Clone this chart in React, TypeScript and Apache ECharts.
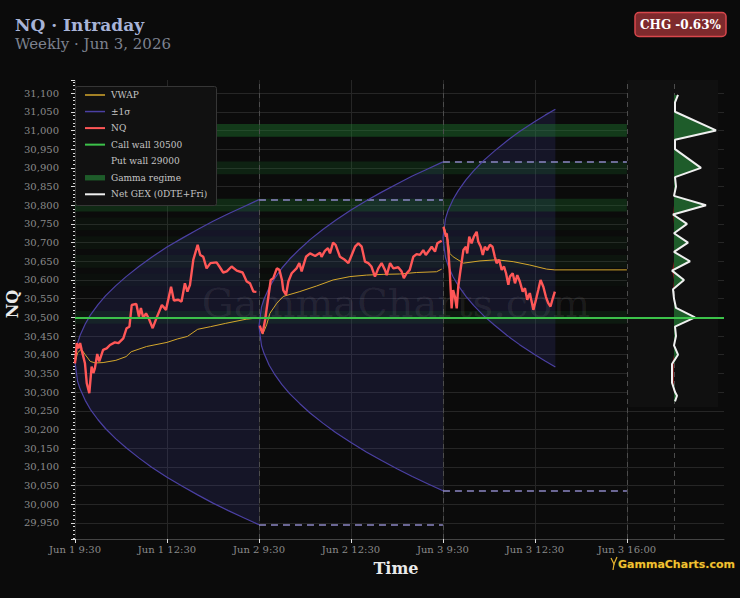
import React, { useEffect, useRef } from 'react';
import * as echarts from 'echarts';

// ---------- axis ticks ----------
const xTickIdx = [0, 36, 72, 108, 144, 180, 216];
const xTickLabels = ['Jun 1 9:30', 'Jun 1 12:30', 'Jun 2 9:30', 'Jun 2 12:30', 'Jun 3 9:30', 'Jun 3 12:30', 'Jun 3 16:00'];
const sessionBreakIdx = [72, 144, 216];
const gexZeroIdx = 234.5;

// ---------- ±1σ cones (session start index, offsets, upper/lower) ----------
const sessionStart = [0, 72, 144];
const sigmaOffsets = [0, 1, 2, 4, 6, 9, 12, 16, 20, 25, 30, 36, 42, 48, 54, 60, 66, 72];
const sigmaOffsets3 = [0, 1, 2, 4, 6, 9, 12, 16, 20, 25, 30, 36, 40, 44];
const sigmaUpper1 = [30380, 30431, 30452, 30482, 30506, 30534, 30558, 30585, 30609, 30636, 30661, 30688, 30712, 30735, 30757, 30777, 30796, 30815];
const sigmaLower1 = [30380, 30329, 30308, 30278, 30254, 30226, 30202, 30175, 30151, 30124, 30099, 30072, 30048, 30025, 30003, 29983, 29964, 29945];
const sigmaUpper2 = [30476, 30528, 30549, 30580, 30603, 30632, 30656, 30683, 30708, 30735, 30760, 30787, 30812, 30835, 30857, 30878, 30897, 30916];
const sigmaLower2 = [30476, 30424, 30403, 30372, 30349, 30320, 30296, 30269, 30244, 30217, 30192, 30165, 30140, 30117, 30095, 30074, 30055, 30036];
const sigmaUpper3 = [30712, 30764, 30786, 30816, 30839, 30868, 30892, 30920, 30944, 30972, 30997, 31024, 31041, 31057];
const sigmaLower3 = [30712, 30660, 30639, 30608, 30585, 30556, 30532, 30504, 30480, 30452, 30427, 30400, 30383, 30367];

// prior-session σ extremes carried into the next session
const levelFrom = [72, 72, 144, 144];
const levelTo = [144, 144, 216, 216];
const levelValue = [30815, 29945, 30916, 30036];

// ---------- NQ price [bar index, price] ----------
const nqSession1 = [[0, 30377], [0.7, 30431], [1.3, 30417], [2, 30431], [2.6, 30413], [3.9, 30377], [4.6, 30324], [5.6, 30297], [6.5, 30368], [7.2, 30351], [7.8, 30364], [8.7, 30402], [9.5, 30382], [11, 30413], [12.4, 30417], [13.7, 30426], [15.6, 30433], [17, 30431], [18.9, 30444], [20.2, 30471], [21.3, 30475], [22.2, 30533], [24, 30536], [25, 30502], [25.8, 30525], [26.7, 30498], [27.8, 30511], [29, 30495], [30.4, 30471], [32, 30500], [34, 30533], [35.6, 30520], [37.6, 30582], [38.7, 30545], [40.4, 30547], [41.7, 30542], [43, 30591], [44, 30569], [45, 30587], [46.3, 30654], [48, 30694], [49, 30667], [50.2, 30662], [51.5, 30631], [53, 30645], [55.4, 30647], [56.5, 30636], [58, 30620], [59.4, 30623], [61.3, 30636], [63.3, 30625], [65.6, 30620], [67.2, 30596], [68.5, 30591], [69.8, 30569], [71, 30568]];
const nqSession2 = [[72.3, 30478], [73.4, 30457], [74.4, 30493], [75.6, 30551], [76.6, 30600], [77.6, 30605], [79, 30631], [80, 30627], [81, 30600], [81.5, 30573], [82.6, 30560], [83.5, 30596], [84.8, 30618], [86.7, 30631], [87.8, 30645], [88.7, 30623], [90.4, 30662], [92, 30671], [94, 30664], [95.9, 30673], [96.5, 30662], [97.8, 30678], [99, 30685], [99.8, 30671], [101, 30700], [102, 30694], [103.7, 30662], [105.6, 30654], [107, 30645], [108.3, 30667], [109.6, 30689], [110.9, 30698], [112.2, 30689], [113.5, 30649], [114.8, 30645], [116, 30636], [117.4, 30609], [118.7, 30631], [120, 30645], [121.3, 30627], [122, 30613], [123.3, 30645], [124.6, 30631], [126.5, 30634], [127.8, 30623], [128.7, 30605], [129.8, 30618], [131, 30627], [132.4, 30662], [133.7, 30669], [135, 30667], [136.3, 30680], [137.3, 30667], [138.3, 30676], [139.6, 30689], [140.9, 30676], [141.8, 30698], [143, 30703], [143.5, 30705]];
const nqSession3 = [[144.2, 30742], [145.2, 30716], [145.5, 30725], [146.1, 30680], [146.7, 30618], [147.4, 30524], [148, 30573], [148.7, 30555], [149.4, 30524], [150, 30582], [150.7, 30618], [152, 30680], [153, 30689], [153.5, 30671], [154.3, 30716], [155.2, 30698], [156.1, 30716], [157.2, 30729], [157.8, 30703], [158.8, 30689], [159.6, 30667], [160.4, 30689], [161.3, 30680], [162.4, 30694], [163.4, 30689], [164.3, 30662], [165, 30645], [166, 30654], [167, 30627], [167.9, 30636], [168.7, 30618], [169.6, 30587], [170.2, 30609], [171.3, 30618], [172.2, 30591], [173.1, 30613], [174.1, 30596], [175.2, 30569], [176.1, 30578], [177, 30547], [178, 30565], [179.4, 30520], [180.4, 30547], [181.3, 30573], [182.2, 30600], [183.3, 30582], [184.3, 30555], [185.2, 30538], [186.1, 30529], [187, 30551], [187.8, 30569]];

// ---------- VWAP [bar index, price] ----------
const vwapSession1 = [[0, 30377], [1, 30405], [2.5, 30415], [4, 30400], [6, 30382], [8, 30378], [11, 30379], [16, 30385], [20, 30395], [22, 30408], [28, 30422], [36, 30433], [40, 30442], [44, 30449], [48, 30468], [53, 30475], [59, 30484], [67, 30495], [71, 30498]];
const vwapSession2 = [[72.5, 30470], [73.5, 30455], [75, 30480], [76.3, 30511], [79, 30538], [81.5, 30556], [88, 30569], [94.6, 30584], [101, 30600], [107.6, 30609], [114, 30613], [120.6, 30615], [127, 30616], [133.7, 30620], [141.5, 30622], [143.5, 30629]];
const vwapSession3 = [[144.4, 30743], [146, 30707], [146.7, 30671], [148, 30662], [152, 30645], [158.5, 30651], [165, 30654], [171.5, 30649], [178, 30640], [184.6, 30629], [187.8, 30627], [216, 30627]];

// ---------- walls / gamma regime ----------
const callWall = 30500;
const gammaStrikes = [31000, 30900, 30800, 30750, 30700, 30650, 30600, 30500];
const gammaStrength = [42, 27, 32, 13, 14, 16, 10, 21];

// ---------- Net GEX profile (0DTE + Fri) ----------
const gexPrice = [31095, 31075, 31050, 31000, 30975, 30950, 30900, 30875, 30850, 30825, 30800, 30775, 30750, 30725, 30700, 30675, 30650, 30625, 30600, 30575, 30550, 30525, 30500, 30475, 30450, 30425, 30400, 30375, 30350, 30325, 30300, 30290, 30275];
const gexValue = [4, 1, 1, 42, 1, 1, 27, 1, 2, 0, 32, -1, 13, 0, 14, 0, 16, -2, 10, -1, 0, 2, 21, 1, 2, 0, 4, -2, -2, -2, 1, 3, 1];

// ---------- legend ----------
const legendNames = ['VWAP', '±1σ', 'NQ', 'Call wall 30500', 'Put wall 29000', 'Gamma regime', 'Net GEX (0DTE+Fri)'];
const legendKinds = ['line', 'line', 'line', 'line', 'none', 'rect', 'line'];

const BG = '#0b0b0b';
const C_NQ = '#ff5757';
const C_VWAP = '#d4a72c';
const C_SIGMA = '#4b40a3';
const C_CALL = '#3cc24a';
const C_GAMMA = '#1e5c2a';
const C_GEX = '#f0f0f0';
const legendColors = [C_VWAP, C_SIGMA, C_NQ, C_CALL, 'transparent', C_GAMMA, C_GEX];
const legendWidths = [1.5, 1.5, 2, 2, 0, 0, 2];
const SERIF = 'DejaVu Serif';

function buildOption() {
  const offsetsBy = [sigmaOffsets, sigmaOffsets, sigmaOffsets3];
  const upperBy = [sigmaUpper1, sigmaUpper2, sigmaUpper3];
  const lowerBy = [sigmaLower1, sigmaLower2, sigmaLower3];
  const labelFor = (v: number) => {
    const i = xTickIdx.indexOf(Math.round(v));
    return i >= 0 ? xTickLabels[i] : '';
  };
  const lineBase = { type: 'line', showSymbol: false, symbol: 'none', silent: true, xAxisIndex: 0, yAxisIndex: 0 };
  const series: any[] = [];

  // cone fills
  series.push({
    type: 'custom', xAxisIndex: 0, yAxisIndex: 0, z: 1, silent: true,
    data: sessionStart.map((s, k) => [s, upperBy[k][0]]),
    renderItem: (params: any, api: any) => {
      const k = params.dataIndex;
      const s = sessionStart[k];
      const offs = offsetsBy[k];
      const pts: number[][] = [];
      for (let i = 0; i < offs.length; i++) pts.push(api.coord([s + offs[i], upperBy[k][i]]));
      for (let i = offs.length - 1; i >= 0; i--) pts.push(api.coord([s + offs[i], lowerBy[k][i]]));
      return { type: 'polygon', shape: { points: pts }, style: { fill: 'rgba(70,70,165,0.19)' } };
    },
  });

  // cone edges
  for (let k = 0; k < 3; k++) {
    const s = sessionStart[k];
    const offs = offsetsBy[k];
    const up: any = { ...lineBase, z: 2.5, data: offs.map((o, i) => [s + o, upperBy[k][i]]), lineStyle: { color: C_SIGMA, width: 1.2 } };
    const lo: any = { ...lineBase, z: 2.5, data: offs.map((o, i) => [s + o, lowerBy[k][i]]), lineStyle: { color: C_SIGMA, width: 1.2 } };
    if (k === 0) {
      up.markLine = {
        silent: true, symbol: 'none', z: 0.5, label: { show: false },
        lineStyle: { color: '#262626', width: 1, type: 'solid' },
        data: xTickIdx.map((v) => ({ xAxis: v })),
      };
      lo.markArea = {
        silent: true, z: 1.5, label: { show: false },
        data: gammaStrikes.map((st, i) => [
          { xAxis: 0, yAxis: st - 17, itemStyle: { color: `rgba(30,125,48,${(0.42 * Math.pow(gammaStrength[i] / 42, 1.6)).toFixed(3)})` } },
          { xAxis: 216, yAxis: st + 17 },
        ]),
      };
    }
    if (k === 1) {
      up.markLine = {
        silent: true, symbol: 'none', z: 1.6, label: { show: false },
        lineStyle: { color: '#4c4c4c', width: 1, type: [5, 4] },
        data: [...sessionBreakIdx, gexZeroIdx].map((v) => ({ xAxis: v })),
      };
      lo.markLine = {
        silent: true, symbol: 'none', z: 1.7, label: { show: false },
        lineStyle: { color: '#8c87c4', width: 1.5, type: [7, 5] },
        data: levelValue.map((v, i) => [{ coord: [levelFrom[i], v] }, { coord: [levelTo[i], v] }]),
      };
    }
    series.push(up, lo);
  }

  // VWAP
  [vwapSession1, vwapSession2, vwapSession3].forEach((d) => {
    series.push({ ...lineBase, z: 3, data: d, lineStyle: { color: C_VWAP, width: 1 } });
  });

  // NQ
  [nqSession1, nqSession2, nqSession3].forEach((d, k) => {
    const s: any = { ...lineBase, z: 4, data: d, lineStyle: { color: C_NQ, width: 2.4 } };
    if (k === 2) {
      s.markLine = {
        silent: true, symbol: 'none', z: 10, label: { show: false },
        lineStyle: { color: C_CALL, width: 2, type: 'solid' },
        data: [{ yAxis: callWall }],
      };
    }
    series.push(s);
  });

  // GEX profile fill
  series.push({
    type: 'custom', xAxisIndex: 1, yAxisIndex: 1, z: 3, silent: true,
    data: [[0, gexPrice[0]]],
    renderItem: (params: any, api: any) => {
      const pos: number[][] = [api.coord([0, gexPrice[0]])];
      const neg: number[][] = [api.coord([0, gexPrice[0]])];
      for (let i = 0; i < gexPrice.length; i++) {
        pos.push(api.coord([Math.max(gexValue[i], 0), gexPrice[i]]));
        neg.push(api.coord([Math.min(gexValue[i], 0), gexPrice[i]]));
      }
      pos.push(api.coord([0, gexPrice[gexPrice.length - 1]]));
      neg.push(api.coord([0, gexPrice[gexPrice.length - 1]]));
      return {
        type: 'group',
        children: [
          { type: 'polygon', shape: { points: pos }, style: { fill: C_GAMMA } },
          { type: 'polygon', shape: { points: neg }, style: { fill: '#7a1d1d' } },
        ],
      };
    },
  });
  series.push({
    type: 'line', showSymbol: false, symbol: 'none', silent: true, xAxisIndex: 1, yAxisIndex: 1, z: 3.5,
    data: gexPrice.map((p, i) => [gexValue[i], p]),
    lineStyle: { color: C_GEX, width: 2 },
  });

  // graphics
  const graphics: any[] = [];
  const txt = (text: string, x: number, y: number, o: any) => ({
    type: 'text', z: o.z ?? 20, rotation: o.rotation ?? 0, x: o.rotation ? x : 0, y: o.rotation ? y : 0,
    style: {
      text, x: o.rotation ? 0 : x, y: o.rotation ? 0 : y,
      fill: o.fill, fontSize: o.size, fontFamily: o.family ?? SERIF, fontWeight: o.weight ?? 'normal',
      textAlign: o.align ?? 'left', align: o.align ?? 'left',
      textVerticalAlign: o.valign ?? 'middle', verticalAlign: o.valign ?? 'middle',
      stroke: o.stroke, lineWidth: o.lineWidth,
    },
  });
  graphics.push(txt('GammaCharts.com', 396, 303, { fill: 'rgba(255,255,255,0.07)', size: 40, align: 'center', z: 1.8 }));
  graphics.push(txt('NQ · Intraday', 15, 33, { fill: '#a8b4d8', size: 17, weight: 'bold', valign: 'bottom' }));
  graphics.push(txt('Weekly · Jun 3, 2026', 15, 51, { fill: '#7d828f', size: 15, valign: 'bottom' }));
  graphics.push({ type: 'rect', z: 20, shape: { x: 635, y: 12.5, width: 91, height: 24, r: 4 }, style: { fill: '#7e2a2d', stroke: '#d9474c', lineWidth: 1.5 } });
  graphics.push(txt('CHG -0.63%', 680.5, 25, { fill: '#ffffff', size: 12, weight: 'bold', align: 'center', z: 21 }));
  graphics.push(txt('Time', 396, 568, { fill: '#eaeaea', size: 16, weight: 'bold', align: 'center' }));
  graphics.push(txt('NQ', 12, 304, { fill: '#eaeaea', size: 16, weight: 'bold', align: 'center', rotation: Math.PI / 2 }));
  // brand
  graphics.push({ type: 'polyline', z: 20, shape: { points: [[611, 558], [614, 564], [617, 557]] }, style: { stroke: '#e3b22e', lineWidth: 1.2, fill: 'none' } });
  graphics.push({ type: 'line', z: 20, shape: { x1: 614, y1: 564, x2: 613, y2: 570 }, style: { stroke: '#e3b22e', lineWidth: 1.2 } });
  graphics.push(txt('GammaCharts.com', 618, 564, { fill: '#f2c233', size: 11, weight: 'bold', family: 'DejaVu Sans', stroke: '#2a1f00', lineWidth: 1 }));
  // legend
  graphics.push({ type: 'rect', z: 20, shape: { x: 75.5, y: 86.5, width: 141, height: 119, r: 2 }, style: { fill: '#111111', stroke: '#363636', lineWidth: 1 } });
  legendNames.forEach((name, i) => {
    const cy = 95 + i * 16.55;
    if (legendKinds[i] === 'line') {
      graphics.push({ type: 'line', z: 21, shape: { x1: 85, y1: cy, x2: 105, y2: cy }, style: { stroke: legendColors[i], lineWidth: legendWidths[i] } });
    } else if (legendKinds[i] === 'rect') {
      graphics.push({ type: 'rect', z: 21, shape: { x: 85, y: cy - 2.7, width: 20, height: 5.4 }, style: { fill: legendColors[i] } });
    }
    graphics.push(txt(name, 111, cy, { fill: '#c4c4c4', size: 9, z: 21 }));
  });

  return {
    animation: false,
    backgroundColor: BG,
    grid: [
      { left: 75, right: 16, top: 80, bottom: 59 },
      { left: 627, top: 80, width: 91, height: 327, show: true, backgroundColor: '#101010', borderWidth: 0, z: 1 },
    ],
    xAxis: [
      {
        type: 'value', gridIndex: 0, min: 0, max: 254,
        axisLine: { show: true, lineStyle: { color: '#444444', width: 1 } },
        axisTick: { show: true, customValues: xTickIdx, length: 4, lineStyle: { color: '#dddddd', width: 1 } },
        axisLabel: { customValues: xTickIdx, formatter: labelFor, color: '#8a8a8a', fontFamily: SERIF, fontSize: 10, margin: 5 },
        splitLine: { show: false },
      },
      { type: 'value', gridIndex: 1, min: -47, max: 44, show: false },
    ],
    yAxis: [
      {
        type: 'value', gridIndex: 0, min: 29907, max: 31135, splitNumber: 24, offset: 7,
        axisLine: { show: false },
        axisTick: { show: true, length: 4, lineStyle: { color: '#dddddd', width: 1 } },
        minorTick: { show: true, splitNumber: 5, length: 2, lineStyle: { color: '#dddddd', width: 1 } },
        axisLabel: {
          color: '#8a8a8a', fontFamily: SERIF, fontSize: 10, margin: 9, showMinLabel: false, showMaxLabel: false,
          formatter: (v: number) => Number(v).toLocaleString('en-US'),
        },
        splitLine: { show: true, showMinLine: false, showMaxLine: false, lineStyle: { color: '#262626', width: 1 } },
      },
      { type: 'value', gridIndex: 1, min: 30260, max: 31135, show: false },
    ],
    graphic: { elements: graphics },
    series,
  };
}

export default function App() {
  const ref = useRef<HTMLDivElement>(null);
  useEffect(() => {
    document.body.style.margin = '0';
    document.body.style.background = BG;
    const chart = echarts.init(ref.current as HTMLDivElement, null, { renderer: 'svg', width: 740, height: 598 });
    chart.setOption(buildOption() as any);
    return () => chart.dispose();
  }, []);
  return <div ref={ref} style={{ width: 740, height: 598 }} />;
}
